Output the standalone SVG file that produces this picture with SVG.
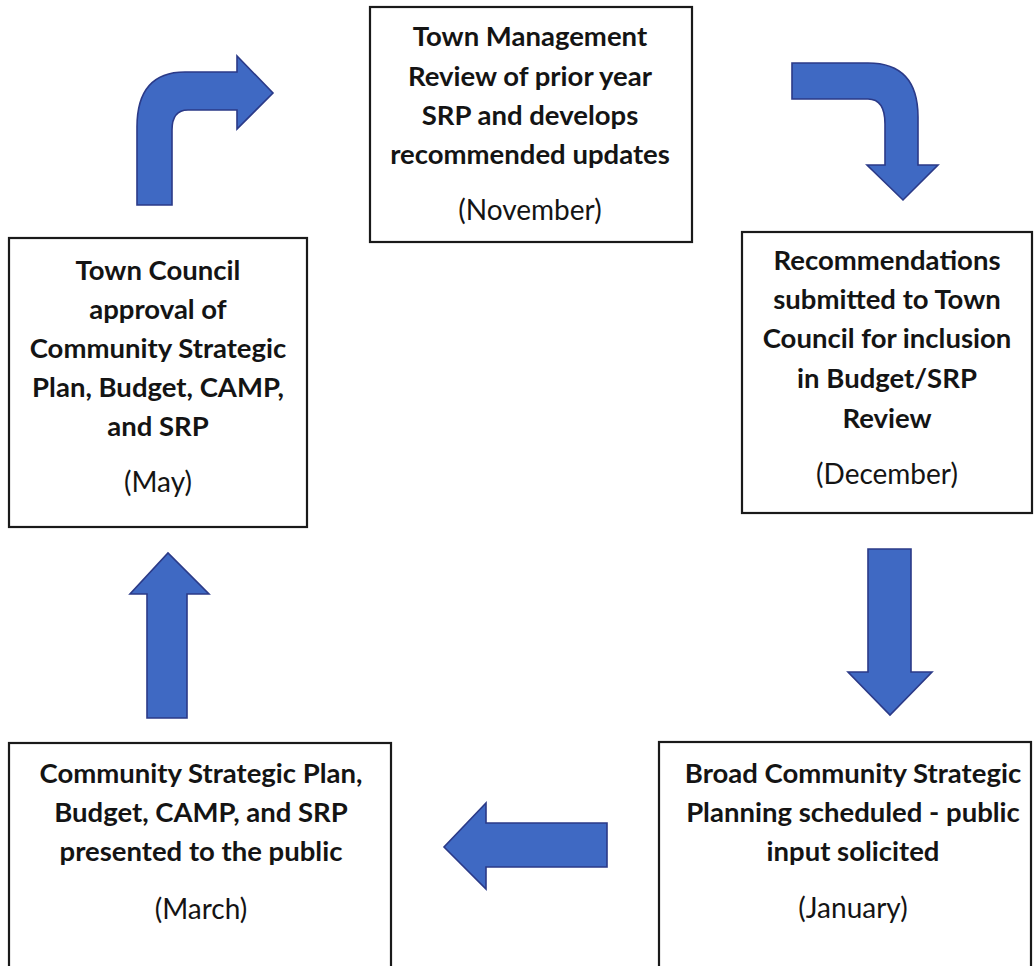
<svg xmlns="http://www.w3.org/2000/svg" width="1034" height="966" viewBox="0 0 1034 966">
  <style>
    .box { fill: #ffffff; stroke: #1a1a1a; stroke-width: 2.2; }
    .t { font-family: Lato, "Open Sans", sans-serif; font-weight: bold; font-size: 27.5px; fill: #141414; text-anchor: middle; }
    .m { font-family: Lato, "Open Sans", sans-serif; font-size: 28px; fill: #141414; text-anchor: middle; }
    .arrow { fill: #3f69c3; stroke: #2b3a88; stroke-width: 1.6; stroke-linejoin: miter; }
  </style>
  <rect width="1034" height="966" fill="#ffffff"/>

  <g id="node-november">
    <rect class="box" x="370" y="7" width="322" height="235"/>
    <text class="t" x="530" y="46">Town Management</text>
    <text class="t" x="530" y="86">Review of prior year</text>
    <text class="t" x="530" y="125">SRP and develops</text>
    <text class="t" x="530" y="164">recommended updates</text>
    <text class="m" x="530" y="220">(November)</text>
  </g>

  <g id="node-december">
    <rect class="box" x="742" y="232" width="290" height="281"/>
    <text class="t" x="887" y="270">Recommendations</text>
    <text class="t" x="887" y="309">submitted to Town</text>
    <text class="t" x="887" y="348">Council for inclusion</text>
    <text class="t" x="887" y="388">in Budget/SRP</text>
    <text class="t" x="887" y="428">Review</text>
    <text class="m" x="887" y="484">(December)</text>
  </g>

  <g id="node-january">
    <rect class="box" x="659" y="742" width="372" height="240"/>
    <text class="t" x="853" y="783">Broad Community Strategic</text>
    <text class="t" x="853" y="822">Planning scheduled - public</text>
    <text class="t" x="853" y="861">input solicited</text>
    <text class="m" x="853" y="918">(January)</text>
  </g>

  <g id="node-march">
    <rect class="box" x="9" y="743" width="382" height="240"/>
    <text class="t" x="201" y="783">Community Strategic Plan,</text>
    <text class="t" x="201" y="822">Budget, CAMP, and SRP</text>
    <text class="t" x="201" y="861">presented to the public</text>
    <text class="m" x="201" y="919">(March)</text>
  </g>

  <g id="node-may">
    <rect class="box" x="9" y="238" width="298" height="289"/>
    <text class="t" x="158" y="280">Town Council</text>
    <text class="t" x="158" y="319">approval of</text>
    <text class="t" x="158" y="358">Community Strategic</text>
    <text class="t" x="158" y="397">Plan, Budget, CAMP,</text>
    <text class="t" x="158" y="436">and SRP</text>
    <text class="m" x="158" y="492">(May)</text>
  </g>

  <g id="connectors">
    <!-- May to November: bent arrow turning right -->
    <path class="arrow" d="M137,205 L137,127 Q137,72 185,72 L237,72 L237,56 L273,93 L237,129 L237,110 L188,110 Q172,110 172,130 L172,205 Z"/>
    <!-- November to December: bent arrow turning down -->
    <path class="arrow" d="M792,63 L868,63 Q918,63 918,117 L918,165 L938,165 L903,200 L867,165 L885,165 L885,124 Q885,99 868,99 L792,99 Z"/>
    <!-- December to January -->
    <path class="arrow" d="M868,549 L911,549 L911,672 L932,672 L890,715 L848,672 L868,672 Z"/>
    <!-- January to March -->
    <path class="arrow" d="M607,823 L607,867 L486,867 L486,889 L444,847 L486,803 L486,823 Z"/>
    <!-- March to May -->
    <path class="arrow" d="M147,718 L187,718 L187,594 L209,594 L168,553 L130,594 L147,594 Z"/>
  </g>
</svg>
